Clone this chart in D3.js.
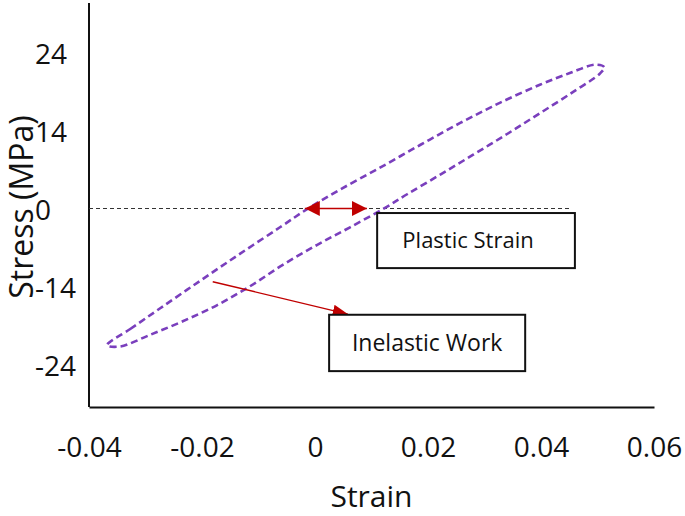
<!DOCTYPE html>
<html>
<head>
<meta charset="utf-8">
<script src="https://cdn.jsdelivr.net/npm/d3@7"></script>
<style>
  body { margin: 0; background: #fff; }
  svg { display: block; font-family: "Open Sans", sans-serif; }
  .axis path.domain { stroke: #111; stroke-width: 2; }
  .axis text { fill: #111; }
</style>
</head>
<body>
<svg width="685" height="516"></svg>
<script>
'use strict';

// x tick values and labels (strain)
const xTicks = [-0.04, -0.02, 0, 0.02, 0.04, 0.06];
const xTickLabels = ["-0.04", "-0.02", "0", "0.02", "0.04", "0.06"];
// y tick labels (stress, MPa) as printed on the chart
const yTickLabels = ["24", "14", "0", "-14", "-24"];

// hysteresis loop: [strain, stress MPa]
// loading branch (bottom-left tip -> top-right tip)
const loadingBranch = [
  [-0.0368, -21.1], [-0.0327, -18.6], [-0.0274, -15.4], [-0.0204, -11.2],
  [-0.0133, -7.0], [-0.0062, -2.9], [-0.0014, -0.1], [0.0044, 2.9],
  [0.0115, 6.3], [0.0186, 9.8], [0.0257, 13.2], [0.0327, 16.3],
  [0.0398, 19.1], [0.0451, 20.9], [0.0496, 22.2], [0.0512, 21.8]
];
// unloading branch (top-right tip -> bottom-left tip)
const unloadingBranch = [
  [0.0504, 20.8], [0.0457, 18.0], [0.0398, 14.7], [0.0340, 11.5],
  [0.0280, 8.3], [0.0221, 5.2], [0.0163, 2.2], [0.0124, 0.1],
  [0.0062, -2.9], [0.0004, -5.6], [-0.0057, -8.7], [-0.0115, -12.0],
  [-0.0173, -14.9], [-0.0234, -17.4], [-0.0292, -19.5], [-0.0345, -21.3]
];

// plastic strain span on the zero-stress line
const plasticStrain = [-0.0018, 0.0092];
// inelastic work pointer: from [strain, stress] to [strain, stress]
const workArrow = [[-0.0181, -11.3], [0.0058, -16.3]];

const svg = d3.select("svg");
const margin = {top: 3, right: 31, bottom: 109, left: 89};
const W = 685, H = 516;

const x = d3.scaleLinear()
  .domain([-0.04, 0.06])
  .range([margin.left, W - margin.right]);

const y = d3.scaleLinear()
  .domain([-24, 24])
  .range([364, 53]);

const yLabelPos = d3.scalePoint()
  .domain(yTickLabels)
  .range([53, 365]);

const red = "#c00000";
const purple = "#7a3fbd";

// arrow markers
const defs = svg.append("defs");
function addMarker(id, w, h) {
  defs.append("marker")
    .attr("id", id)
    .attr("viewBox", `0 0 ${w} ${h}`)
    .attr("refX", w).attr("refY", h / 2)
    .attr("markerWidth", w).attr("markerHeight", h)
    .attr("markerUnits", "userSpaceOnUse")
    .attr("orient", "auto-start-reverse")
    .append("path")
    .attr("d", `M0,0L${w},${h / 2}L0,${h}Z`)
    .style("fill", red);
}
addMarker("headBig", 15, 15);
addMarker("headSmall", 15, 12);

// axes
const xAxis = svg.append("g")
  .attr("class", "axis")
  .attr("transform", `translate(0,${H - margin.bottom})`)
  .call(d3.axisBottom(x).tickValues(xTicks).tickSize(0).tickSizeOuter(0)
    .tickFormat((d, i) => xTickLabels[i]));
xAxis.selectAll("text")
  .attr("y", 50).attr("dy", 0)
  .style("font-size", "28px")
  .style("font-family", "'Open Sans', sans-serif");

const yAxis = svg.append("g")
  .attr("class", "axis")
  .attr("transform", `translate(${margin.left},0)`)
  .call(d3.axisLeft(yLabelPos).tickSize(0).tickSizeOuter(0));
yAxis.select("path.domain")
  .attr("d", `M0,${margin.top}V${H - margin.bottom}`);
yAxis.selectAll("text")
  .attr("x", 35 - margin.left)
  .attr("dy", "0.36em")
  .attr("text-anchor", "start")
  .style("font-size", "28px")
  .style("font-family", "'Open Sans', sans-serif");

// axis titles
svg.append("text")
  .attr("x", (x.range()[0] + x.range()[1]) / 2)
  .attr("y", 507)
  .attr("text-anchor", "middle")
  .style("font-size", "30px")
  .style("fill", "#111")
  .text("Strain");

svg.append("text")
  .attr("transform", "translate(33,207) rotate(-90)")
  .attr("text-anchor", "middle")
  .style("font-size", "32px")
  .style("fill", "#111")
  .text("Stress (MPa)");

// zero-stress reference line
svg.append("line")
  .attr("x1", x(-0.04)).attr("x2", x(0.0453))
  .attr("y1", y(0)).attr("y2", y(0))
  .style("stroke", "#333")
  .style("stroke-width", 1.2)
  .style("stroke-dasharray", "4,3");

// hysteresis loop
const loop = d3.line()
  .x(d => x(d[0]))
  .y(d => y(d[1]))
  .curve(d3.curveCatmullRomClosed.alpha(0.5));

svg.append("path")
  .datum(loadingBranch.concat(unloadingBranch))
  .attr("d", loop)
  .style("fill", "none")
  .style("stroke", purple)
  .style("stroke-width", 2.6)
  .style("stroke-dasharray", "7,4");

// plastic strain double arrow
svg.append("line")
  .attr("x1", x(plasticStrain[0])).attr("x2", x(plasticStrain[1]))
  .attr("y1", y(0)).attr("y2", y(0))
  .style("stroke", red)
  .style("stroke-width", 1.6)
  .attr("marker-start", "url(#headBig)")
  .attr("marker-end", "url(#headBig)");

// inelastic work arrow
svg.append("line")
  .attr("x1", x(workArrow[0][0])).attr("y1", y(workArrow[0][1]))
  .attr("x2", x(workArrow[1][0])).attr("y2", y(workArrow[1][1]))
  .style("stroke", red)
  .style("stroke-width", 1.4)
  .attr("marker-end", "url(#headSmall)");

// label boxes
const boxes = [
  {text: "Plastic Strain", x0: 0.011, x1: 0.046, y0: -0.7, y1: -9.2, size: 22, dx: -8},
  {text: "Inelastic Work", x0: 0.0025, x1: 0.0372, y0: -16.4, y1: -25.1, size: 23, dx: 0}
];
const box = svg.selectAll("g.box").data(boxes).enter().append("g").attr("class", "box");
box.append("rect")
  .attr("x", d => x(d.x0)).attr("y", d => y(d.y0))
  .attr("width", d => x(d.x1) - x(d.x0))
  .attr("height", d => y(d.y1) - y(d.y0))
  .style("fill", "#fff")
  .style("stroke", "#111")
  .style("stroke-width", 2);
box.append("text")
  .attr("x", d => (x(d.x0) + x(d.x1)) / 2 + d.dx)
  .attr("y", d => (y(d.y0) + y(d.y1)) / 2)
  .attr("dy", "0.35em")
  .attr("text-anchor", "middle")
  .style("font-size", d => d.size + "px")
  .style("fill", "#111")
  .text(d => d.text);
</script>
</body>
</html>
